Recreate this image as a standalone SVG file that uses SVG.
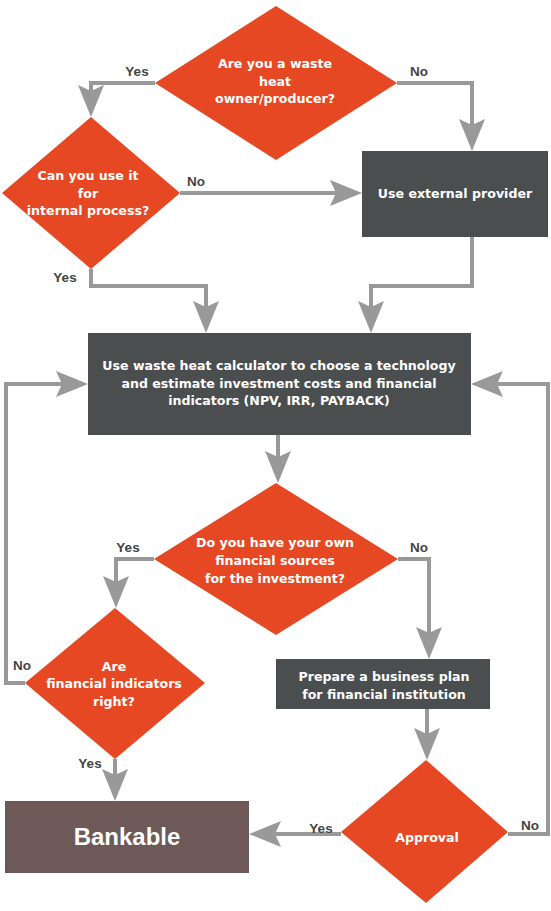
<svg xmlns="http://www.w3.org/2000/svg" width="551" height="911" viewBox="0 0 551 911">
<style>
.dec{fill:#e54823}
.box{fill:#4b4e4f}
.bank{fill:#6d5957}
.t{font-family:"DejaVu Sans",Verdana,sans-serif;font-weight:bold;font-size:12.6px;fill:#fff;text-anchor:middle}
.big{font-family:"Liberation Sans",Arial,sans-serif;font-weight:bold;font-size:24px;fill:#fff;text-anchor:middle}
.lbl{font-family:"Liberation Sans",Arial,sans-serif;font-weight:bold;font-size:13.5px;fill:#444;text-anchor:middle}
.c{fill:none;stroke:#999;stroke-width:4;marker-end:url(#ah)}
</style>
<defs>
<marker id="ah" markerUnits="userSpaceOnUse" markerWidth="34" markerHeight="30" viewBox="-13 -15 34 30" refX="0" refY="0" orient="auto">
<path d="M20,0 L-12,-13 L-6,0 L-12,13 Z" fill="#999"/>
</marker>
</defs>
<rect width="551" height="911" fill="#fff"/>
<g id="connectors">
<path class="c" d="M155,83 H91 V97"/>
<path class="c" d="M397,83 H472 V131"/>
<path class="c" d="M180,193 H342"/>
<path class="c" d="M91,269 V286 H206 V313"/>
<path class="c" d="M472,237 V286 H371 V313"/>
<path class="c" d="M278,435 V463"/>
<path class="c" d="M154,559 H116 V588"/>
<path class="c" d="M398,559 H429 V639"/>
<path class="c" d="M25,683 H6 V384 H68"/>
<path class="c" d="M115,759 V781"/>
<path class="c" d="M427,709 V740"/>
<path class="c" d="M341,834 H269"/>
<path class="c" d="M508,834 H548 V384 H491"/>
</g>
<g id="labels">
<text class="lbl" x="137" y="76">Yes</text>
<text class="lbl" x="419" y="76">No</text>
<text class="lbl" x="196" y="186">No</text>
<text class="lbl" x="65" y="282">Yes</text>
<text class="lbl" x="128" y="552">Yes</text>
<text class="lbl" x="419" y="552">No</text>
<text class="lbl" x="22" y="670">No</text>
<text class="lbl" x="90" y="768">Yes</text>
<text class="lbl" x="321" y="833">Yes</text>
<text class="lbl" x="530" y="830">No</text>
</g>
<g id="d1">
<polygon class="dec" points="276,6 397,83 276,160 155,83"/>
<text class="t" x="275" y="67.5">Are you a waste</text>
<text class="t" x="275" y="85.5">heat</text>
<text class="t" x="275" y="102.5">owner/producer?</text>
</g>
<g id="d2">
<polygon class="dec" points="91,117 180,193 91,269 2,193"/>
<text class="t" x="88" y="179.5">Can you use it</text>
<text class="t" x="88" y="197.5">for</text>
<text class="t" x="88" y="214.5">internal process?</text>
</g>
<g id="r1">
<rect class="box" x="362" y="151" width="186" height="86"/>
<text class="t" x="455" y="197.5">Use external provider</text>
</g>
<g id="r2">
<rect class="box" x="88" y="333" width="383" height="102"/>
<text class="t" x="279" y="369.5">Use waste heat calculator to choose a technology</text>
<text class="t" x="279" y="387.5">and estimate investment costs and financial</text>
<text class="t" x="279" y="404.5">indicators (NPV, IRR, PAYBACK)</text>
</g>
<g id="d3">
<polygon class="dec" points="276,483 398,559 276,635 154,559"/>
<text class="t" x="275" y="546.5">Do you have your own</text>
<text class="t" x="275" y="564.5">financial sources</text>
<text class="t" x="275" y="582.5">for the investment?</text>
</g>
<g id="d4">
<polygon class="dec" points="115,608 205,683 115,759 25,683"/>
<text class="t" x="114" y="670.5">Are</text>
<text class="t" x="114" y="687.5">financial indicators</text>
<text class="t" x="114" y="705.5">right?</text>
</g>
<g id="r3">
<rect class="box" x="276" y="659" width="214" height="50"/>
<text class="t" x="384" y="680.5">Prepare a business plan</text>
<text class="t" x="384" y="698.5">for financial institution</text>
</g>
<g id="d5">
<polygon class="dec" points="426,760 508,832 426,903 341,832"/>
<text class="t" x="427" y="841.5">Approval</text>
</g>
<g id="bankable">
<rect class="bank" x="5" y="801" width="244" height="72"/>
<text class="big" x="127" y="845">Bankable</text>
</g>
</svg>
